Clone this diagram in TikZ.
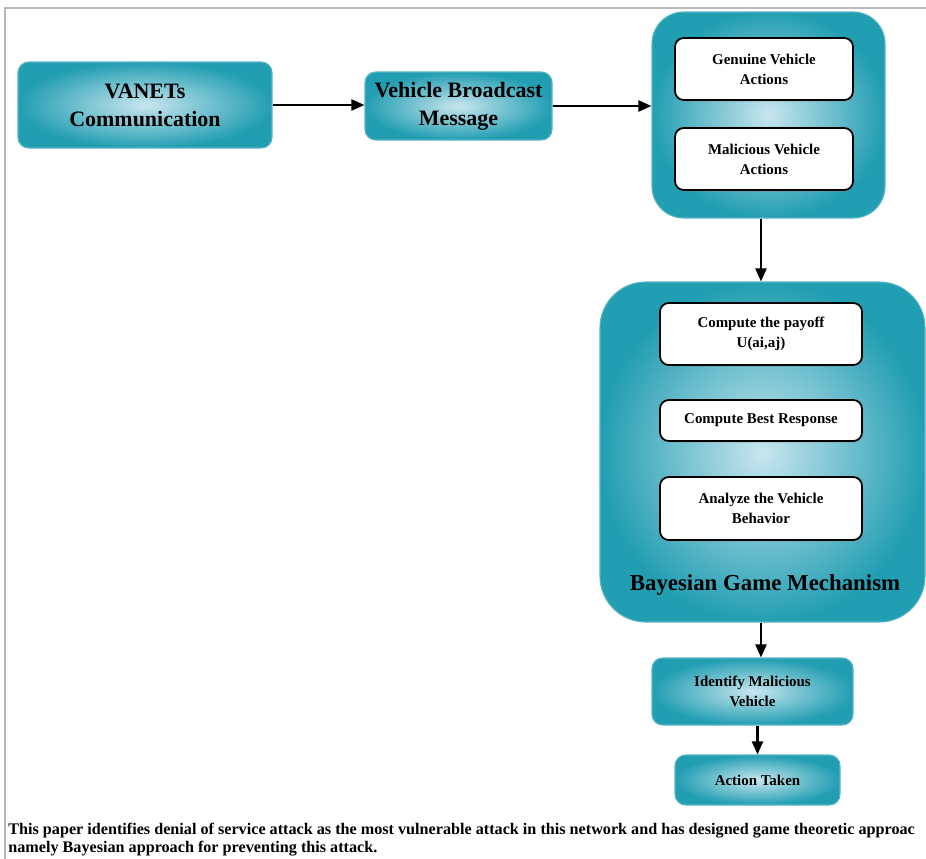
\documentclass[tikz,border=0pt]{standalone}
\usepackage{fontspec}
\setmainfont{Liberation Serif}
\usetikzlibrary{arrows.meta,shadows}
\definecolor{vteal}{RGB}{34,158,178}
\definecolor{vlight}{RGB}{200,230,238}
\begin{document}
\begin{tikzpicture}[
    tealbox/.style={draw=vteal!75, line width=0.6pt, rounded corners=6pt,
        inner color=vlight, outer color=vteal,
        align=center, font=\bfseries, inner sep=2pt},
    whitebox/.style={draw=black, fill=white, line width=1pt, rounded corners=5pt,
        drop shadow={opacity=0.35, shadow xshift=0.6pt, shadow yshift=-0.9pt},
        align=center, font=\bfseries\fontsize{8.5}{11.5}\selectfont,
        minimum width=4.04cm},
    flow/.style={-{Triangle[length=2.6mm, width=2.2mm]}, line width=1.2pt}
    ]
        \useasboundingbox (0, 0) rectangle (18.52, -17.16);
        \clip (0, 0) rectangle (18.52, -17.16);
        \fill[white] (0, 0) rectangle (18.52, -17.16);
        \draw[gray!55, line width=0.7pt] (0.1, -17.2) -- (0.1, -0.16) -- (18.6, -0.16);
        % first row
        \node[tealbox, minimum width=5.08cm, minimum height=1.72cm,
            font=\bfseries\fontsize{12.5}{16}\selectfont] (vanet) at (2.90, -2.10)
            {VANETs\\Communication};
        \node[tealbox, minimum width=3.74cm, minimum height=1.36cm,
            font=\bfseries\fontsize{12.5}{16}\selectfont] (bcast) at (9.17, -2.12)
            {Vehicle Broadcast\\Message};
        \node[tealbox, rounded corners=18pt, minimum width=4.66cm, minimum height=4.12cm]
            (acts) at (15.37, -2.30) {};
        \node[whitebox, minimum width=3.56cm, minimum height=1.24cm] (genuine) at (15.28, -1.38)
            {Genuine Vehicle\\Actions};
        \node[whitebox, minimum width=3.56cm, minimum height=1.24cm] (malicious) at (15.28, -3.18)
            {Malicious Vehicle\\Actions};
        \draw[flow] (vanet.east) -- (vanet.east -| bcast.west);
        \draw[flow] (bcast.east) -- (bcast.east -| acts.west);
        % game block
        \node[tealbox, rounded corners=26pt, minimum width=6.5cm, minimum height=6.8cm]
            (bgm) at (15.25, -9.04) {};
        \node[whitebox, minimum height=1.24cm] (payoff) at (15.22, -6.68)
            {Compute the payoff\\U(ai,aj)};
        \node[whitebox, minimum height=0.82cm] (bestresp) at (15.22, -8.41)
            {Compute Best Response};
        \node[whitebox, minimum height=1.26cm] (analyze) at (15.22, -10.17)
            {Analyze the Vehicle\\Behavior};
        \node[font=\bfseries\fontsize{13}{16}\selectfont] (bgmlabel) at (15.30, -11.70)
            {Bayesian Game Mechanism};
        \draw[flow] (acts.south -| payoff.north) -- (bgm.north -| payoff.north);
        % result
        \node[tealbox, minimum width=4.02cm, minimum height=1.34cm,
            font=\bfseries\fontsize{8.5}{11.5}\selectfont] (identify) at (15.05, -13.83)
            {Identify Malicious\\Vehicle};
        \node[tealbox, minimum width=3.30cm, minimum height=1.0cm,
            font=\bfseries\fontsize{8.5}{11.5}\selectfont] (taken) at (15.15, -15.60)
            {Action Taken};
        \draw[flow] (bgm.south -| payoff.south) -- (identify.north -| payoff.south);
        \draw[flow] (identify.south -| taken.north) -- (taken.north);
        % caption
        \node[anchor=base west, inner sep=0pt, font=\bfseries\fontsize{9.2}{11}\selectfont]
            (capa) at (0.16, -16.68)
            {This paper identifies denial of service attack as the most vulnerable attack in this network and has designed game theoretic approac};
        \node[anchor=base west, inner sep=0pt, font=\bfseries\fontsize{9.2}{11}\selectfont]
            (capb) at (0.16, -17.04)
            {namely Bayesian approach for preventing this attack.};
    \end{tikzpicture}
\end{document}
